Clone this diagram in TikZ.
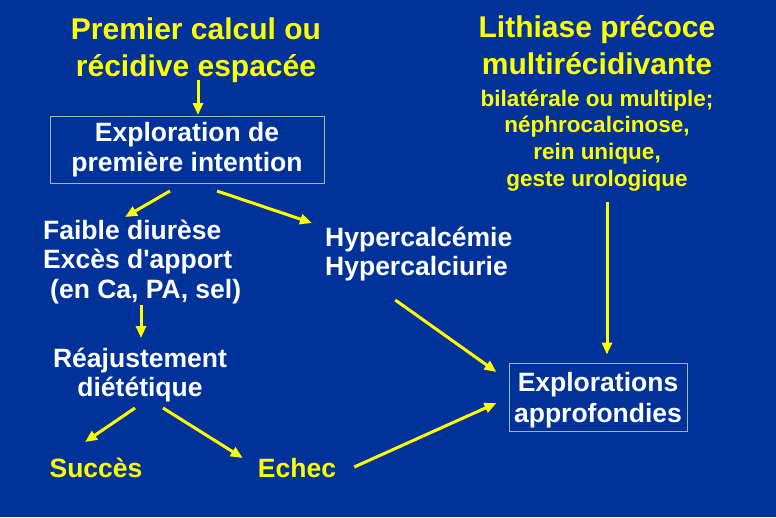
\documentclass[tikz,border=0pt]{standalone}
\usepackage{fontspec}
\setmainfont{Liberation Sans}
\usepackage{tikz}
\usetikzlibrary{arrows.meta, positioning}
\definecolor{fondbleu}{HTML}{003399}
\definecolor{jaunevif}{HTML}{FFFF00}
\definecolor{cadregris}{HTML}{A8B8B0}
\newcommand{\grandtitre}{\fontsize{30}{37.5}\selectfont\bfseries}
\newcommand{\textecourant}{\fontsize{26.5}{29.8}\selectfont\bfseries}
\newcommand{\petittexte}{\fontsize{22.5}{26.8}\selectfont\bfseries}

\begin{document}
\begin{tikzpicture}[x=1pt, y=-1pt,
    fleche/.style={-{Triangle[length=12pt, width=10pt]}, draw=jaunevif, line width=3pt},
    boite/.style={draw=cadregris, line width=1pt, inner sep=0pt, align=center},
    blanc/.style={text=white, inner sep=0pt, font=\textecourant},
    jaune/.style={text=jaunevif, inner sep=0pt}]
    % --- Fond ---
    \fill[fondbleu] (0,0) rectangle (776,517);

    % --- Colonne de gauche ---
    \node[jaune, align=center, font=\grandtitre] (premier) at (196, 50) {Premier calcul ou\\récidive espacée};
    \node[boite, blanc, minimum width=274pt, minimum height=67pt] (premiere) at (187, 150) {Exploration de\\première intention};
    \node[blanc, align=left, anchor=west] (faible) at (43, 262) {Faible diurèse\\Excès d\textquotesingle apport\\\hspace{7pt}(en Ca, PA, sel)};
    \node[blanc, align=left, anchor=west] (hyper) at (325, 254) {Hypercalcémie\\Hypercalciurie};
    \node[blanc, align=center] (reaj) at (140, 375) {Réajustement\\diététique};
    \node[jaune, font=\textecourant] (succes) at (96, 468) {Succès};
    \node[jaune, font=\textecourant] (echec) at (297, 468) {Echec};

    % --- Colonne de droite ---
    \node[jaune, align=center, font=\grandtitre, text depth=0pt] (lithiase) at (597, 45) {Lithiase précoce\\multirécidivante};
    \node[jaune, align=center, font=\petittexte] (critere) at (597, 140.5) {bilatérale ou multiple;\\néphrocalcinose,\\rein unique,\\geste urologique};
    \node[boite, blanc, minimum width=178pt, minimum height=68pt, font=\fontsize{26.5}{31}\selectfont\bfseries] (approf) at (598, 397) {\rule{0pt}{26pt}Explorations\\approfondies};

    % --- Fleches ---
    \draw[fleche] ([shift={(2,30)}]premier.center) -- ([shift={(11,-1)}]premiere.north);
    \draw[fleche] ([shift={(-17,7)}]premiere.south) -- ([shift={(82,-45)}]faible.west);
    \draw[fleche] ([shift={(30,7)}]premiere.south) -- ([shift={(-13,-31)}]hyper.west);
    \draw[fleche] ([shift={(1,43)}]faible.center -| reaj.center) -- ([shift={(1,-37)}]reaj.center);
    \draw[fleche] ([shift={(-5,33)}]reaj.center) -- ([shift={(-11,-26)}]succes.center);
    \draw[fleche] ([shift={(23,33)}]reaj.center) -- ([shift={(-15,-10)}]echec.west);
    \draw[fleche] ([shift={(18,-1)}]echec.east) -- ([shift={(-12,6)}]approf.west);
    \draw[fleche] ([shift={(-23.5,46)}]hyper.center) -- ([shift={(-12,-25)}]approf.west);
    \draw[fleche] ([shift={(10,61.5)}]critere.center) -- ([shift={(9,-8)}]approf.north);
\end{tikzpicture}
\end{document}
